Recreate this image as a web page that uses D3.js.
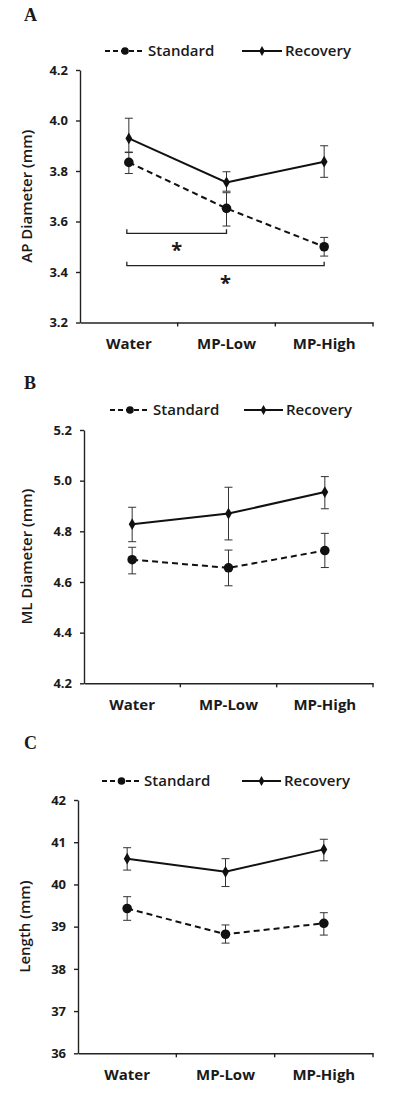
<!DOCTYPE html>
<html><head><meta charset="utf-8">
<script src="https://cdn.jsdelivr.net/npm/d3@7"></script>
<style>
body{margin:0;background:#fff;}
svg text{font-family:"Open Sans",sans-serif;fill:#1a1a1a;}
</style></head>
<body><svg id="c" width="400" height="1094"></svg>
<script>
const categories = ["Water", "MP-Low", "MP-High"];
const seriesNames = ["Standard", "Recovery"];

// Panel A: AP Diameter (mm)
const apStandard = [3.834, 3.652, 3.500];
const apStandardLow = [3.790, 3.582, 3.463];
const apStandardHigh = [3.875, 3.714, 3.537];
const apRecovery = [3.929, 3.755, 3.837];
const apRecoveryLow = [3.873, 3.720, 3.775];
const apRecoveryHigh = [4.009, 3.797, 3.900];
const apTicks = [3.2, 3.4, 3.6, 3.8, 4.0, 4.2];

// Panel B: ML Diameter (mm)
const mlStandard = [4.688, 4.656, 4.724];
const mlStandardLow = [4.632, 4.585, 4.657];
const mlStandardHigh = [4.737, 4.726, 4.792];
const mlRecovery = [4.828, 4.870, 4.955];
const mlRecoveryLow = [4.759, 4.766, 4.889];
const mlRecoveryHigh = [4.895, 4.974, 5.016];
const mlTicks = [4.2, 4.4, 4.6, 4.8, 5.0, 5.2];

// Panel C: Length (mm)
const lenStandard = [39.43, 38.82, 39.08];
const lenStandardLow = [39.15, 38.61, 38.80];
const lenStandardHigh = [39.71, 39.04, 39.33];
const lenRecovery = [40.61, 40.30, 40.83];
const lenRecoveryLow = [40.34, 39.95, 40.56];
const lenRecoveryHigh = [40.87, 40.61, 41.07];
const lenTicks = [36, 37, 38, 39, 40, 41, 42];

// significance brackets (panel A): [fromCategory, toCategory]
const sigPairs = [["Water", "MP-Low"], ["Water", "MP-High"]];

const svg = d3.select("#c");

function panel(o) {
  const g = svg.append("g");
  const x = d3.scaleBand().domain(categories).range([o.x0, o.x1]);
  const y = d3.scaleLinear().domain([o.ticks[0], o.ticks[o.ticks.length - 1]]).range([o.yb, o.yt]);
  const cx = c => x(c) + x.bandwidth() / 2;

  // panel letter
  g.append("text").attr("x", 24).attr("y", o.letterY).text(o.letter)
    .style("font-family", "'Liberation Serif',serif").style("font-weight", "bold").style("font-size", "18px");

  // y axis
  const ya = g.append("g").attr("transform", `translate(${o.x0},0)`)
    .call(d3.axisLeft(y).tickValues(o.ticks).tickSize(4).tickSizeOuter(0).tickFormat(o.fmt).tickPadding(8));
  ya.select(".domain").attr("stroke", "#222").attr("stroke-width", 1.4);
  ya.selectAll(".tick line").attr("stroke", "#222").attr("stroke-width", 1.4);
  ya.selectAll(".tick text").style("font-size", "13px").style("font-weight", "bold")
    .style("font-family", "'Open Sans',sans-serif").attr("fill", "#1a1a1a");

  // x axis
  const xa = g.append("g").attr("transform", `translate(0,${o.yb})`)
    .call(d3.axisBottom(x).tickSize(0).tickPadding(16));
  xa.select(".domain").attr("stroke", "#222").attr("stroke-width", 1.6);
  xa.selectAll(".tick text").style("font-size", "15px").style("font-weight", "bold")
    .style("font-family", "'Open Sans',sans-serif").attr("fill", "#1a1a1a");
  // boundary tick marks
  const bounds = categories.map(c => x(c)).concat([o.x1]).slice(1);
  g.selectAll(".bt").data(bounds).enter().append("line")
    .attr("x1", d => d).attr("x2", d => d).attr("y1", o.yb).attr("y2", o.yb + 4)
    .attr("stroke", "#222").attr("stroke-width", 1.4);

  // y label
  g.append("text").attr("transform", `translate(${o.labelX},${(o.yt + o.yb) / 2}) rotate(-90)`)
    .attr("text-anchor", "middle").style("font-size", "15px").style("font-weight", "600")
    .text(o.ylabel);

  const series = [
    {name: seriesNames[0], v: o.std, lo: o.stdLo, hi: o.stdHi, dash: "6,4", marker: "circle"},
    {name: seriesNames[1], v: o.rec, lo: o.recLo, hi: o.recHi, dash: null, marker: "diamond"}
  ];

  // error bars
  series.forEach(s => {
    categories.forEach((c, i) => {
      const X = cx(c);
      g.append("line").attr("x1", X).attr("x2", X).attr("y1", y(s.lo[i])).attr("y2", y(s.hi[i]))
        .attr("stroke", "#333").attr("stroke-width", 1);
      [s.lo[i], s.hi[i]].forEach(v => {
        g.append("line").attr("x1", X - 4).attr("x2", X + 4).attr("y1", y(v)).attr("y2", y(v))
          .attr("stroke", "#333").attr("stroke-width", 1);
      });
    });
  });

  // lines and markers
  series.forEach(s => {
    const pts = categories.map((c, i) => [cx(c), y(s.v[i])]);
    g.append("path").attr("d", d3.line()(pts)).attr("fill", "none").attr("stroke", "#111")
      .attr("stroke-width", 2).attr("stroke-dasharray", s.dash);
    pts.forEach(p => {
      if (s.marker === "circle") {
        g.append("circle").attr("cx", p[0]).attr("cy", p[1]).attr("r", 4.8).attr("fill", "#111");
      } else {
        g.append("path").attr("d", d3.symbol(d3.symbolDiamond, 40)())
          .attr("transform", `translate(${p[0]},${p[1]})`).attr("fill", "#111");
      }
    });
  });

  // legend
  const L = o.legend;
  const lg = g.append("g");
  lg.append("line").attr("x1", L.s0).attr("x2", L.s1).attr("y1", L.y).attr("y2", L.y)
    .attr("stroke", "#111").attr("stroke-width", 2).attr("stroke-dasharray", "5,3");
  lg.append("circle").attr("cx", (L.s0 + L.s1) / 2).attr("cy", L.y).attr("r", 3.8).attr("fill", "#111");
  lg.append("text").attr("x", L.s1 + 3).attr("y", L.y + 5).style("font-size", "15px")
    .style("font-weight", "600").text(seriesNames[0]);
  lg.append("line").attr("x1", L.r0).attr("x2", L.r1).attr("y1", L.y).attr("y2", L.y)
    .attr("stroke", "#111").attr("stroke-width", 2);
  lg.append("path").attr("d", d3.symbol(d3.symbolDiamond, 28)())
    .attr("transform", `translate(${(L.r0 + L.r1) / 2},${L.y})`).attr("fill", "#111");
  lg.append("text").attr("x", L.r1 + 3).attr("y", L.y + 5).style("font-size", "15px")
    .style("font-weight", "600").text(seriesNames[1]);

  return {g, x, y, cx};
}

const A = panel({
  letter: "A", letterY: 21, x0: 80, x1: 373, yt: 70, yb: 322.5, ticks: apTicks, fmt: d3.format(".1f"),
  labelX: 32, ylabel: "AP Diameter (mm)",
  std: apStandard, stdLo: apStandardLow, stdHi: apStandardHigh,
  rec: apRecovery, recLo: apRecoveryLow, recHi: apRecoveryHigh,
  legend: {y: 51, s0: 105, s1: 145, r0: 242, r1: 282}
});

// significance brackets
const bracketY = [3.553, 3.425];
sigPairs.forEach((p, k) => {
  const yv = A.y(bracketY[k]);
  const xa = A.cx(p[0]) - 2, xb = A.cx(p[1]);
  A.g.append("path").attr("d", `M${xa},${yv - 4}V${yv}H${xb}V${yv - 4}`)
    .attr("fill", "none").attr("stroke", "#222").attr("stroke-width", 1.3);
  A.g.append("text").attr("x", (xa + xb) / 2).attr("y", yv + 24).attr("text-anchor", "middle")
    .style("font-size", "20px").style("font-weight", "bold").text("*");
});

panel({
  letter: "B", letterY: 389, x0: 84, x1: 373, yt: 430, yb: 683.3, ticks: mlTicks, fmt: d3.format(".1f"),
  labelX: 32, ylabel: "ML Diameter (mm)",
  std: mlStandard, stdLo: mlStandardLow, stdHi: mlStandardHigh,
  rec: mlRecovery, recLo: mlRecoveryLow, recHi: mlRecoveryHigh,
  legend: {y: 410, s0: 110, s1: 150, r0: 244, r1: 283}
});

panel({
  letter: "C", letterY: 749, x0: 78, x1: 373, yt: 800, yb: 1053.3, ticks: lenTicks, fmt: d3.format("d"),
  labelX: 30, ylabel: "Length (mm)",
  std: lenStandard, stdLo: lenStandardLow, stdHi: lenStandardHigh,
  rec: lenRecovery, recLo: lenRecoveryLow, recHi: lenRecoveryHigh,
  legend: {y: 781, s0: 102, s1: 141, r0: 242, r1: 281}
});
</script></body></html>
